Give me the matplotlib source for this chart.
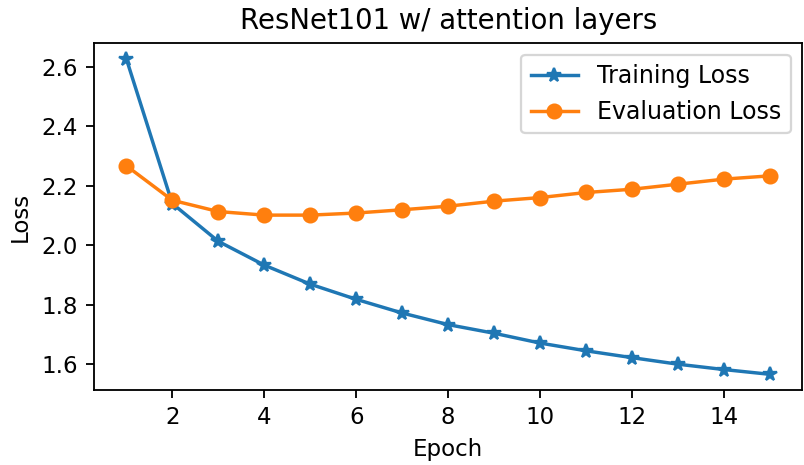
import numpy as np
import matplotlib
matplotlib.use("Agg")
import matplotlib.pyplot as plt

# epoch numbers and losses
epochs = np.arange(1, 16)
trainLoss = [2.627, 2.140, 2.013, 1.933, 1.869, 1.818, 1.772, 1.733,
             1.704, 1.671, 1.645, 1.622, 1.600, 1.582, 1.566]
evalLoss = [2.267, 2.151, 2.113, 2.101, 2.101, 2.108, 2.119, 2.131,
            2.148, 2.160, 2.177, 2.188, 2.205, 2.222, 2.233]

dpi = 165
fig = plt.figure(figsize=(804 / dpi, 465 / dpi), dpi=dpi)
ax = fig.add_axes([0.117, 0.161, 0.881, 0.747])

ax.plot(epochs, trainLoss, marker='*', label='Training Loss')
ax.plot(epochs, evalLoss, marker='o', label='Evaluation Loss')

ax.set_title('ResNet101 w/ attention layers')
ax.set_xlabel('Epoch')
ax.set_ylabel('Loss')
ax.set_xticks([2, 4, 6, 8, 10, 12, 14])
ax.set_yticks([1.6, 1.8, 2.0, 2.2, 2.4, 2.6])
ax.legend(loc='upper right', fontsize=10.3)

fig.savefig('out.png', dpi=dpi)
